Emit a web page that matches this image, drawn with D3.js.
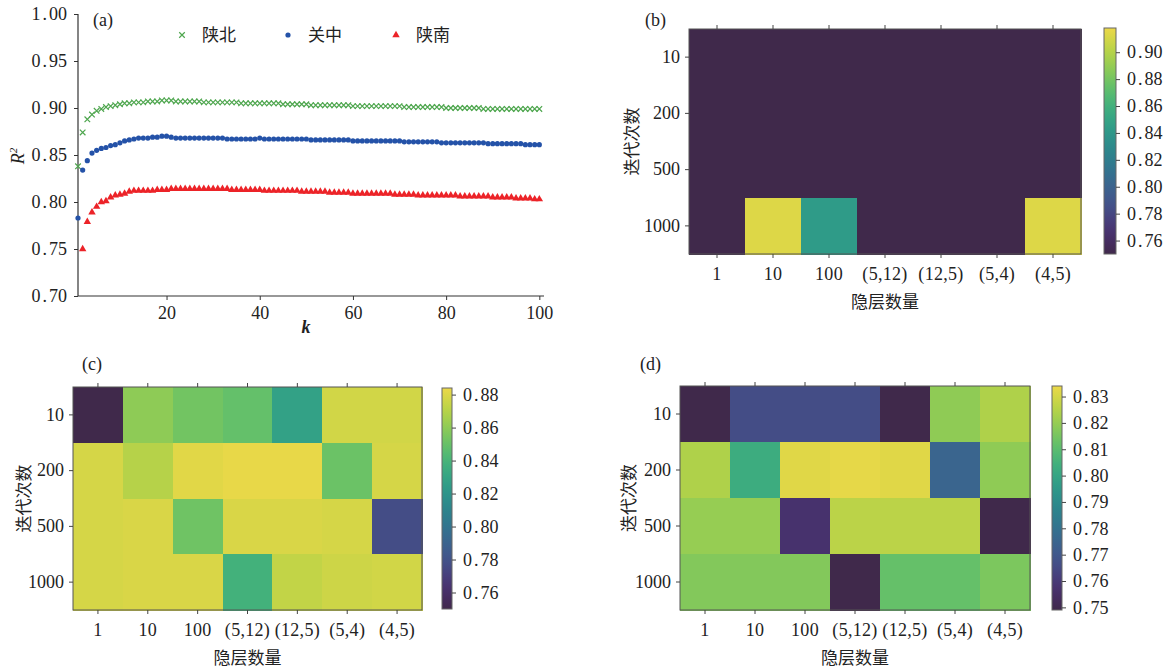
<!DOCTYPE html>
<html>
<head>
<meta charset="utf-8">
<script src="https://cdn.jsdelivr.net/npm/d3@7"></script>
<style>
  body { margin: 0; background: #fff; }
  svg text { fill: #222; }
  .num { font-family: "Liberation Serif", "DejaVu Serif", serif; font-size: 18px; }
  .cjk { font-family: "Noto Sans CJK SC", sans-serif; font-size: 17px; }
</style>
</head>
<body>
<svg id="chart" width="1175" height="671"></svg>
<script>
"use strict";

// ---- panel (a) data: R^2 vs k ----
const kValues = d3.range(1, 101);
const shaanbei = [
  0.838, 0.874, 0.888, 0.893, 0.897, 0.899, 0.901, 0.902, 0.903, 0.904,
  0.905, 0.905, 0.906, 0.906, 0.906, 0.907, 0.907, 0.907, 0.908, 0.908,
  0.908, 0.907, 0.907, 0.907, 0.907, 0.907, 0.907, 0.906, 0.906, 0.906,
  0.906, 0.906, 0.906, 0.906, 0.906, 0.905, 0.905, 0.905, 0.905, 0.905,
  0.905, 0.905, 0.905, 0.905, 0.904, 0.904, 0.904, 0.904, 0.904, 0.904,
  0.903, 0.903, 0.903, 0.903, 0.903, 0.903, 0.903, 0.903, 0.903, 0.902,
  0.902, 0.902, 0.902, 0.902, 0.902, 0.902, 0.902, 0.902, 0.902, 0.902,
  0.901, 0.901, 0.901, 0.901, 0.901, 0.901, 0.901, 0.901, 0.901, 0.900,
  0.900, 0.900, 0.900, 0.900, 0.900, 0.900, 0.900, 0.899, 0.899, 0.899,
  0.899, 0.899, 0.899, 0.899, 0.899, 0.899, 0.899, 0.899, 0.899, 0.899
];
const guanzhong = [
  0.783, 0.834, 0.844, 0.852, 0.855, 0.857, 0.858, 0.860, 0.861, 0.863,
  0.865, 0.866, 0.867, 0.868, 0.868, 0.868, 0.869, 0.869, 0.870, 0.870,
  0.869, 0.868, 0.868, 0.868, 0.868, 0.868, 0.868, 0.868, 0.868, 0.868,
  0.868, 0.868, 0.867, 0.867, 0.867, 0.867, 0.867, 0.867, 0.867, 0.868,
  0.867, 0.867, 0.867, 0.867, 0.867, 0.867, 0.867, 0.867, 0.867, 0.867,
  0.866, 0.866, 0.866, 0.866, 0.866, 0.866, 0.866, 0.866, 0.866, 0.865,
  0.865, 0.865, 0.865, 0.865, 0.865, 0.865, 0.865, 0.865, 0.865, 0.865,
  0.864, 0.864, 0.864, 0.864, 0.864, 0.864, 0.864, 0.864, 0.863, 0.863,
  0.863, 0.863, 0.863, 0.863, 0.863, 0.863, 0.863, 0.863, 0.862, 0.862,
  0.862, 0.862, 0.862, 0.862, 0.862, 0.862, 0.861, 0.861, 0.861, 0.861
];
const shaannan = [
  0.690, 0.750, 0.779, 0.789, 0.795, 0.800, 0.801, 0.805, 0.807, 0.808,
  0.809, 0.811, 0.812, 0.812, 0.812, 0.812, 0.812, 0.813, 0.813, 0.813,
  0.814, 0.814, 0.814, 0.814, 0.814, 0.814, 0.814, 0.814, 0.814, 0.814,
  0.814, 0.814, 0.814, 0.813, 0.813, 0.813, 0.813, 0.813, 0.813, 0.813,
  0.812, 0.812, 0.812, 0.812, 0.812, 0.812, 0.812, 0.812, 0.811, 0.811,
  0.811, 0.811, 0.811, 0.811, 0.810, 0.810, 0.810, 0.810, 0.810, 0.809,
  0.809, 0.809, 0.809, 0.809, 0.809, 0.809, 0.809, 0.809, 0.808, 0.808,
  0.808, 0.808, 0.808, 0.807, 0.807, 0.807, 0.807, 0.807, 0.807, 0.807,
  0.807, 0.807, 0.806, 0.806, 0.806, 0.806, 0.806, 0.806, 0.806, 0.805,
  0.805, 0.805, 0.805, 0.805, 0.804, 0.804, 0.804, 0.804, 0.803, 0.803
];
const seriesNames = ["陕北", "关中", "陕南"];
const seriesColors = ["#4ea64e", "#2452a8", "#ec2328"];
const yTicksA = [0.70, 0.75, 0.80, 0.85, 0.90, 0.95, 1.00];
const xTicksA = [20, 40, 60, 80, 100];

// ---- heatmap data: rows = iterations, cols = hidden layers ----
const hiddenLayers = ["1", "10", "100", "(5,12)", "(12,5)", "(5,4)", "(4,5)"];
const iterations = ["10", "200", "500", "1000"];
const heatB = [
  [0.750, 0.750, 0.750, 0.750, 0.750, 0.750, 0.750],
  [0.750, 0.750, 0.750, 0.750, 0.750, 0.750, 0.750],
  [0.750, 0.750, 0.750, 0.750, 0.750, 0.750, 0.750],
  [0.750, 0.913, 0.843, 0.750, 0.750, 0.750, 0.913]
];
const heatC = [
  [0.750, 0.860, 0.853, 0.849, 0.828, 0.877, 0.877],
  [0.878, 0.870, 0.881, 0.883, 0.883, 0.851, 0.878],
  [0.878, 0.879, 0.852, 0.879, 0.879, 0.878, 0.777],
  [0.878, 0.879, 0.879, 0.838, 0.873, 0.876, 0.877]
];
const heatD = [
  [0.749, 0.766, 0.766, 0.766, 0.749, 0.819, 0.824],
  [0.824, 0.803, 0.832, 0.833, 0.832, 0.775, 0.819],
  [0.820, 0.820, 0.757, 0.826, 0.826, 0.826, 0.749],
  [0.817, 0.817, 0.817, 0.749, 0.812, 0.812, 0.816]
];
const cbTicksB = [0.76, 0.78, 0.80, 0.82, 0.84, 0.86, 0.88, 0.90];
const cbTicksC = [0.76, 0.78, 0.80, 0.82, 0.84, 0.86, 0.88];
const cbTicksD = [0.75, 0.76, 0.77, 0.78, 0.79, 0.80, 0.81, 0.82, 0.83];

// muted viridis as it looks in the picture
const paletteStops = ["#40294b", "#4a2e72", "#454f88", "#3b6390", "#2f7a8e",
  "#2b8f8b", "#32a586", "#4fba74", "#82c95a", "#b9d444", "#ecd848"];
const palette = d3.interpolateRgbBasis(paletteStops);

const svg = d3.select("#chart");
const NUM_FONT = "'Liberation Serif', 'DejaVu Serif', serif";

// decimal labels in the original font have a wide dot
const setNumText = (sel, fmt) => {
  sel.each(function (d) {
    const s = fmt(d);
    const t = d3.select(this);
    t.text(null);
    const parts = s.split(".");
    if (parts.length === 2) {
      t.append("tspan").text(parts[0]);
      t.append("tspan").attr("dx", 2).text(".");
      t.append("tspan").attr("dx", 2).text(parts[1]);
    } else {
      t.text(s);
    }
  });
};

const styleAxis = (g, color) => {
  g.attr("font-family", NUM_FONT).attr("font-size", 18);
  g.select(".domain").remove();
  g.selectAll(".tick line").attr("stroke", color).attr("stroke-width", 1);
  g.selectAll(".tick text").attr("fill", "#222");
};

/* ------------------------------ panel (a) ------------------------------ */
const drawPanelA = () => {
  const left = 78, right = 544, top = 14, bottom = 296;
  const x = d3.scaleLinear().domain([1, 101]).range([left, right]);
  const y = d3.scaleLinear().domain([0.70, 1.00]).range([bottom, top]);
  const g = svg.append("g");

  g.append("clipPath").attr("id", "clipA")
    .append("rect").attr("x", left - 6).attr("y", top).attr("width", right - left + 6).attr("height", bottom - top);

  const yAxis = g.append("g").attr("transform", `translate(${left},0)`)
    .call(d3.axisLeft(y).tickValues(yTicksA).tickSize(4).tickPadding(7));
  styleAxis(yAxis, "#333");
  setNumText(yAxis.selectAll(".tick text"), d3.format(".2f"));

  const xAxis = g.append("g").attr("transform", `translate(0,${bottom})`)
    .call(d3.axisBottom(x).tickValues(xTicksA).tickSize(4).tickPadding(6));
  styleAxis(xAxis, "#333");

  g.append("line").attr("x1", left).attr("x2", left).attr("y1", top).attr("y2", bottom)
    .attr("stroke", "#333").attr("stroke-width", 1.2);
  g.append("line").attr("x1", left).attr("x2", right).attr("y1", bottom).attr("y2", bottom)
    .attr("stroke", "#333").attr("stroke-width", 1.2);

  const marks = g.append("g").attr("clip-path", "url(#clipA)");
  const cross = d3.symbol().type(d3.symbolX).size(22);
  const tri = d3.symbol().type(d3.symbolTriangle).size(24);

  marks.selectAll(".sb").data(shaanbei).join("path")
    .attr("d", cross)
    .attr("transform", (d, i) => `translate(${x(kValues[i])},${y(d)})`)
    .attr("fill", "none").attr("stroke", seriesColors[0]).attr("stroke-width", 1.2);
  marks.selectAll(".gz").data(guanzhong).join("circle")
    .attr("cx", (d, i) => x(kValues[i])).attr("cy", d => y(d)).attr("r", 2.6)
    .attr("fill", seriesColors[1]);
  marks.selectAll(".sn").data(shaannan).join("path")
    .attr("d", tri)
    .attr("transform", (d, i) => `translate(${x(kValues[i])},${y(d)})`)
    .attr("fill", seriesColors[2]);

  // legend
  const legendX = [182, 288, 396];
  seriesNames.forEach((name, i) => {
    const lg = g.append("g").attr("transform", `translate(${legendX[i]},35)`);
    if (i === 0) lg.append("path").attr("d", cross).attr("fill", "none").attr("stroke", seriesColors[0]).attr("stroke-width", 1.2);
    if (i === 1) lg.append("circle").attr("r", 2.6).attr("fill", seriesColors[1]);
    if (i === 2) lg.append("path").attr("d", tri).attr("fill", seriesColors[2]);
    lg.append("text").attr("class", "cjk").attr("x", 20).attr("y", 6).text(name);
  });

  g.append("text").attr("class", "num").attr("x", 93).attr("y", 26).text("(a)");
  g.append("text").attr("class", "num")
    .attr("transform", "translate(24,156) rotate(-90)")
    .attr("text-anchor", "middle").style("font-style", "italic")
    .html("R<tspan dy='-7' font-size='11'>2</tspan>");
  g.append("text").attr("class", "num").attr("x", 306).attr("y", 333)
    .attr("text-anchor", "middle").style("font-style", "italic").style("font-weight", "bold").text("k");
};

/* ------------------------------ heatmaps ------------------------------ */
const drawHeatmap = (cfg) => {
  const { data, left, right, top, bottom, cb, domain, ticks, label, labelX, labelY, ylabelX } = cfg;
  const g = svg.append("g");
  const x = d3.scaleBand().domain(hiddenLayers).range([left, right]);
  const y = d3.scaleBand().domain(iterations).range([top, bottom]);
  const color = d3.scaleSequential(palette).domain(domain).clamp(true);

  const cells = [];
  data.forEach((row, r) => row.forEach((v, c) => cells.push({ r, c, v })));
  g.selectAll("rect.cell").data(cells).join("rect")
    .attr("class", "cell")
    .attr("x", d => x(hiddenLayers[d.c])).attr("y", d => y(iterations[d.r]))
    .attr("width", x.bandwidth() + 1).attr("height", y.bandwidth() + 1)
    .attr("shape-rendering", "crispEdges")
    .attr("fill", d => color(d.v));
  g.append("rect").attr("x", left).attr("y", top).attr("width", right - left).attr("height", bottom - top)
    .attr("fill", "none").attr("stroke", "#555").attr("stroke-width", 1);

  const xb = g.append("g").attr("transform", `translate(0,${bottom})`)
    .call(d3.axisBottom(x).tickSize(4).tickPadding(9));
  styleAxis(xb, "#444");
  xb.selectAll(".tick text").style("letter-spacing", "0.3px");
  const xt = g.append("g").attr("transform", `translate(0,${top})`)
    .call(d3.axisTop(x).tickSize(4).tickFormat(""));
  styleAxis(xt, "#444");
  const yl = g.append("g").attr("transform", `translate(${left},0)`)
    .call(d3.axisLeft(y).tickSize(4).tickPadding(5));
  styleAxis(yl, "#444");

  g.append("text").attr("class", "cjk").attr("x", (left + right) / 2).attr("y", bottom + 54)
    .attr("text-anchor", "middle").text("隐层数量");
  g.append("text").attr("class", "cjk")
    .attr("transform", `translate(${ylabelX},${(top + bottom) / 2}) rotate(-90)`)
    .attr("text-anchor", "middle").text("迭代次数");
  g.append("text").attr("class", "num").attr("x", labelX).attr("y", labelY).text(label);

  // colorbar
  const cy = d3.scaleLinear().domain(domain).range([cb.bottom, cb.top]);
  const defsId = "grad" + label.replace(/\W/g, "");
  const grad = svg.append("defs").append("linearGradient").attr("id", defsId)
    .attr("x1", 0).attr("x2", 0).attr("y1", 1).attr("y2", 0);
  d3.range(0, 1.0001, 0.05).forEach(t => {
    grad.append("stop").attr("offset", t).attr("stop-color", palette(t));
  });
  g.append("rect").attr("x", cb.left).attr("y", cb.top).attr("width", cb.right - cb.left).attr("height", cb.bottom - cb.top)
    .attr("fill", `url(#${defsId})`).attr("stroke", "#666").attr("stroke-width", 1);
  const ca = g.append("g").attr("transform", `translate(${cb.right},0)`)
    .call(d3.axisRight(cy).tickValues(ticks).tickSize(4).tickPadding(7));
  styleAxis(ca, "#444");
  setNumText(ca.selectAll(".tick text"), d3.format(".2f"));
};

drawPanelA();

drawHeatmap({
  data: heatB, left: 689, right: 1081, top: 29, bottom: 254,
  cb: { left: 1104, right: 1116, top: 28, bottom: 254 },
  domain: [0.750, 0.918], ticks: cbTicksB, label: "(b)", labelX: 645, labelY: 26, ylabelX: 638
});
drawHeatmap({
  data: heatC, left: 73, right: 422, top: 387, bottom: 610,
  cb: { left: 442, right: 452, top: 388, bottom: 609 },
  domain: [0.750, 0.884], ticks: cbTicksC, label: "(c)", labelX: 82, labelY: 370, ylabelX: 30
});
drawHeatmap({
  data: heatD, left: 680, right: 1030, top: 386, bottom: 610,
  cb: { left: 1052, right: 1062, top: 386, bottom: 610 },
  domain: [0.749, 0.834], ticks: cbTicksD, label: "(d)", labelX: 640, labelY: 370, ylabelX: 635
});
</script>
</body>
</html>
